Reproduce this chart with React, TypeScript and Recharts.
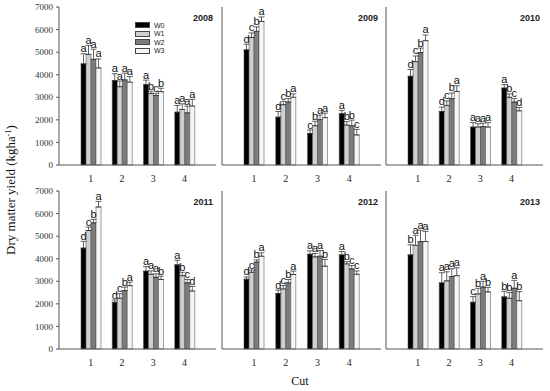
import React from "react";
import { Bar, BarChart, ErrorBar, LabelList, XAxis, YAxis } from "recharts";

const CUTS = ["1", "2", "3", "4"];
const TREATMENTS = ["W0", "W1", "W2", "W3"];
const Y_TICKS = [0, 1000, 2000, 3000, 4000, 5000, 6000, 7000];

// per cut: [W0, W1, W2, W3]
const yield2008 = [[4480, 4900, 4680, 4300], [3740, 3470, 3770, 3670], [3560, 3170, 3080, 3250], [2340, 2460, 2310, 2610]];
const err2008 = [[450, 400, 450, 400], [300, 250, 300, 250], [200, 100, 100, 150], [300, 250, 300, 300]];
const letters2008 = [["a", "a", "a", "a"], ["a", "a", "a", "a"], ["a", "b", "c", "b"], ["a", "a", "a", "a"]];

const yield2009 = [[5100, 5650, 5920, 6360], [2120, 2670, 2790, 3000], [1400, 1740, 2010, 2100], [2270, 1770, 1740, 1330]];
const err2009 = [[250, 200, 200, 200], [250, 150, 150, 150], [150, 200, 200, 200], [150, 150, 250, 250]];
const letters2009 = [["d", "c", "b", "a"], ["d", "c", "b", "a"], ["c", "b", "a", "a"], ["a", "b", "b", "c"]];

const yield2010 = [[3930, 4580, 4980, 5510], [2370, 2640, 2940, 3260], [1680, 1680, 1700, 1680], [3410, 3000, 2790, 2400]];
const err2010 = [[300, 250, 200, 250], [200, 200, 250, 250], [200, 150, 150, 200], [150, 150, 150, 150]];
const letters2010 = [["d", "c", "b", "a"], ["d", "c", "b", "a"], ["a", "a", "a", "a"], ["a", "b", "c", "d"]];

const yield2011 = [[4470, 5250, 5590, 6290], [2070, 2250, 2590, 2810], [3450, 3310, 3180, 3080], [3730, 3250, 2930, 2570]];
const err2011 = [[300, 150, 150, 250], [100, 200, 150, 150], [200, 150, 150, 150], [200, 150, 150, 200]];
const letters2011 = [["d", "c", "b", "a"], ["d", "c", "b", "a"], ["a", "a", "a", "b"], ["a", "b", "c", "d"]];

const yield2012 = [[3090, 3400, 3850, 4110], [2460, 2660, 2930, 3300], [4200, 4080, 4110, 3670], [4170, 3770, 3550, 3310]];
const err2012 = [[100, 100, 100, 150], [150, 150, 150, 150], [150, 150, 250, 300], [150, 100, 150, 150]];
const letters2012 = [["d", "c", "b", "a"], ["d", "c", "b", "a"], ["a", "a", "a", "b"], ["a", "b", "c", "c"]];

const yield2013 = [[4170, 4590, 4760, 4760], [2930, 3020, 3210, 3250], [2070, 2440, 2750, 2530], [2310, 2250, 2690, 2140]];
const err2013 = [[450, 450, 500, 450], [450, 400, 350, 350], [250, 250, 250, 200], [250, 250, 350, 400]];
const letters2013 = [["b", "a", "a", "a"], ["a", "a", "a", "a"], ["c", "b", "a", "b"], ["b", "b", "a", "b"]];

const FILLS = ["#000000", "#cfcfcf", "#7c7c7c", "#f6f6f6"];
const KEYS = ["w0", "w1", "w2", "w3"];

const PANEL_LEFT = [59, 222, 386];
const PANEL_W = [157, 159, 157];
const ROW_TOP = [7, 191];
const PLOT_H = 158;
const AXIS_W = 45;
const TOP_PAD = 6;

type PanelProps = {
  year: string;
  values: number[][];
  errs: number[][];
  letters: string[][];
  col: number;
  row: number;
};

function Panel({ year, values, errs, letters, col, row }: PanelProps) {
  const data = CUTS.map((cut, i) => {
    const d: Record<string, unknown> = { cut };
    KEYS.forEach((k, j) => {
      d[k] = values[i][j];
      d["e" + k] = [0, errs[i][j]];
    });
    return d;
  });
  const left = PANEL_LEFT[col];
  const w = PANEL_W[col];
  const top = ROW_TOP[row];
  const showLabels = col === 0;

  return (
    <div style={{ position: "absolute", left: left - AXIS_W, top: top - TOP_PAD }}>
      <BarChart
        width={AXIS_W + w + 1}
        height={PLOT_H + TOP_PAD + 22}
        data={data}
        margin={{ top: TOP_PAD, right: 1, bottom: 0, left: 0 }}
        barSize={5}
        barGap={0}
      >
        <XAxis
          dataKey="cut"
          height={22}
          padding={{ left: 16, right: 16 }}
          tickLine={false}
          axisLine={{ stroke: "#555" }}
          tick={{ fill: "#222", fontSize: 10, fontFamily: "Liberation Serif" }}
          tickMargin={4}
        />
        <XAxis xAxisId="top" orientation="top" dataKey="cut" height={0} tick={false} tickLine={false} axisLine={{ stroke: "#777" }} />
        <YAxis
          width={AXIS_W}
          domain={[0, 7000]}
          ticks={Y_TICKS}
          tickSize={3}
          tickLine={{ stroke: "#555" }}
          axisLine={{ stroke: "#555" }}
          tick={showLabels ? { fill: "#333", fontSize: 9, fontFamily: "Liberation Serif" } : false}
          tickMargin={3}
        />
        <YAxis yAxisId="r" orientation="right" width={0} domain={[0, 7000]} tick={false} tickLine={false} axisLine={{ stroke: "#777" }} />
        {KEYS.map((k, j) => (
          <Bar key={k} dataKey={k} fill={FILLS[j]} stroke="#444" strokeWidth={0.5} isAnimationActive={false}>
            <ErrorBar dataKey={"e" + k} width={3} stroke="#222" strokeWidth={0.7} direction="y" />
            <LabelList
              dataKey={k}
              content={(p: any) => {
                const v = Number(p.value);
                const h = Number(p.height);
                const errPx = v ? (errs[p.index][j] * h) / v : 0;
                return (
                  <text
                    x={Number(p.x) + Number(p.width) / 2}
                    y={Number(p.y) - errPx - 1.5}
                    textAnchor="middle"
                    fontSize={11}
                    fontFamily="Liberation Sans"
                    fill="#111"
                  >
                    {letters[p.index][j]}
                  </text>
                );
              }}
            />
          </Bar>
        ))}
      </BarChart>
      <div
        style={{
          position: "absolute",
          right: 4,
          top: TOP_PAD + 6,
          fontFamily: "Liberation Sans",
          fontSize: 9,
          fontWeight: 600,
          color: "#222",
        }}
      >
        {year}
      </div>
    </div>
  );
}

function LegendBox() {
  return (
    <div style={{ position: "absolute", left: 135, top: 21, fontFamily: "Liberation Sans", fontSize: 7, color: "#222" }}>
      {TREATMENTS.map((t, i) => (
        <div key={t} style={{ display: "flex", alignItems: "center", height: 8.5 }}>
          <div style={{ width: 13, height: 4, background: FILLS[i], border: "0.5px solid #444", marginRight: 4 }} />
          <span>{t}</span>
        </div>
      ))}
    </div>
  );
}

export default function App() {
  return (
    <div style={{ position: "absolute", left: 0, top: 0, width: 550, height: 391, background: "#fff", overflow: "hidden" }}>
      <Panel year="2008" values={yield2008} errs={err2008} letters={letters2008} col={0} row={0} />
      <Panel year="2009" values={yield2009} errs={err2009} letters={letters2009} col={1} row={0} />
      <Panel year="2010" values={yield2010} errs={err2010} letters={letters2010} col={2} row={0} />
      <Panel year="2011" values={yield2011} errs={err2011} letters={letters2011} col={0} row={1} />
      <Panel year="2012" values={yield2012} errs={err2012} letters={letters2012} col={1} row={1} />
      <Panel year="2013" values={yield2013} errs={err2013} letters={letters2013} col={2} row={1} />
      <LegendBox />
      <svg width={550} height={391} style={{ position: "absolute", left: 0, top: 0, pointerEvents: "none" }}>
        <text
          transform="translate(15,190) rotate(-90)"
          textAnchor="middle"
          fontFamily="Liberation Serif"
          fontSize={13}
          fill="#111"
        >
          Dry matter yield (kgha<tspan dy={-4} fontSize={8}>-1</tspan>
          <tspan dy={4}>)</tspan>
        </text>
        <text x={300} y={385} textAnchor="middle" fontFamily="Liberation Serif" fontSize={12} fill="#111">
          Cut
        </text>
      </svg>
    </div>
  );
}
